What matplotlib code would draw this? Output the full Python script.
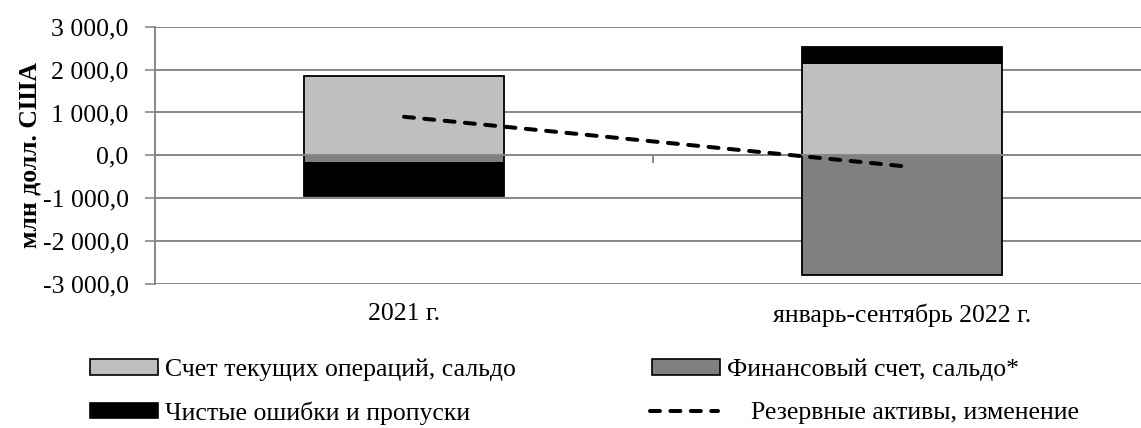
import matplotlib
matplotlib.use("Agg")
import matplotlib.pyplot as plt
import numpy as np
from matplotlib.patches import Patch
from matplotlib.lines import Line2D

# data (млн долл. США)
categories = ["2021 г.", "январь-сентябрь 2022 г."]
current_account = [1850.0, 2120.0]
financial_account = [-160.0, -2790.0]
errors_omissions = [-780.0, 400.0]
reserve_change = [900.0, -250.0]

series_names = [
    "Счет текущих операций, сальдо",
    "Финансовый счет, сальдо*",
    "Чистые ошибки и пропуски",
]
reserve_name = "Резервные активы, изменение"
yticks = [-3000, -2000, -1000, 0, 1000, 2000, 3000]

COLORS = {
    "light": "#bfbfbf",
    "dark": "#808080",
    "black": "#000000",
    "grid": "#878787",
}
SERIES_COLORS = [COLORS["light"], COLORS["dark"], COLORS["black"]]
FONT = "Liberation Serif"
FS = 18.5
FS_PX = FS * 100 / 72


def fmt_tick(v):
    s = f"{abs(v):,.1f}".replace(",", " ").replace(".", ",")
    return ("-" if v < 0 else "") + s


def main():
    plt.rcParams.update({"font.family": FONT, "font.size": FS})
    fig = plt.figure(figsize=(11.41, 4.28), dpi=100)
    W, H = 1141, 428
    ax = fig.add_axes([155 / W, 1 - 284 / H, (1151 - 155) / W, (284 - 26.7) / H])

    x = np.arange(len(categories))
    width = 0.4
    pos_base = np.zeros(len(categories))
    neg_base = np.zeros(len(categories))
    for vals, color in zip([current_account, financial_account, errors_omissions], SERIES_COLORS):
        vals = np.array(vals)
        bottoms = np.where(vals >= 0, pos_base, neg_base)
        ax.bar(x, vals, width=width, bottom=bottoms, color=color, edgecolor="none", zorder=2)
        pos_base = pos_base + np.clip(vals, 0, None)
        neg_base = neg_base + np.clip(vals, None, 0)
    # outline around each full stacked bar
    ax.bar(x, pos_base - neg_base, width=width, bottom=neg_base, fill=False,
           edgecolor="black", linewidth=1.3, zorder=3)

    ax.plot(x, reserve_change, color="black", linewidth=4 * 72 / 100, dashes=(2.5, 2.6),
            dash_capstyle="round", zorder=5)

    ax.set_xlim(-0.5, 1.5)
    ax.set_ylim(-3000, 3000)
    ax.set_yticks(yticks)
    ax.set_yticklabels([fmt_tick(v) for v in yticks])
    ax.grid(axis="y", color=COLORS["grid"], linewidth=1.4, zorder=0)
    ax.set_axisbelow(True)

    for side in ("top", "right"):
        ax.spines[side].set_visible(False)
    ax.spines["left"].set_color(COLORS["grid"])
    ax.spines["left"].set_linewidth(1.4)
    ax.spines["bottom"].set_position(("data", 0))
    ax.spines["bottom"].set_color(COLORS["grid"])
    ax.spines["bottom"].set_linewidth(1.4)
    ax.spines["bottom"].set_zorder(4)
    ax.tick_params(axis="y", direction="out", length=7, width=1.2, color=COLORS["grid"],
                   labelsize=FS, pad=12)

    ax.set_xticks([0.5])
    ax.set_xticklabels([""])
    ax.tick_params(axis="x", direction="out", length=6, width=1.4, color=COLORS["grid"])

    sec = ax.secondary_xaxis(0.0)
    sec.set_xticks(x)
    sec.set_xticklabels(categories)
    sec.tick_params(length=0, pad=14, labelsize=FS)
    sec.spines["bottom"].set_visible(False)

    fig.text(30 / W, 1 - 155 / H, "млн долл. США", rotation=90, ha="center", va="center",
             fontsize=FS, fontweight="bold")

    # legend entries, placed one by one like the Excel legend
    handles = [Patch(facecolor=c, edgecolor="black", linewidth=1.2) for c in SERIES_COLORS]
    line_handle = Line2D([], [], color="black", linewidth=4 * 72 / 100, dashes=(2.5, 2.6),
                         dash_capstyle="round")
    entries = [
        (handles[0], series_names[0], 90, 370, 7),
        (handles[1], series_names[1], 652, 370, 7),
        (handles[2], series_names[2], 90, 413, 7),
        (line_handle, reserve_name, 650, 413, 33),
    ]
    for h, label, px, py, gap in entries:
        fig.legend([h], [label], loc="center left", bbox_to_anchor=(px / W, 1 - py / H),
                   frameon=False, borderpad=0, borderaxespad=0, handlelength=68 / FS_PX,
                   handleheight=14 / FS_PX, handletextpad=gap / FS_PX, fontsize=FS)

    fig.savefig("out.png", dpi=100)
    plt.close(fig)


if __name__ == "__main__":
    main()
